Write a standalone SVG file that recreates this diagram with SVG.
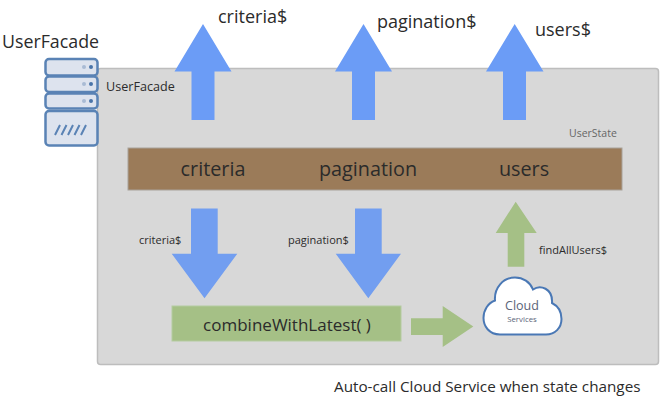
<svg xmlns="http://www.w3.org/2000/svg" width="662" height="400" viewBox="0 0 662 400">
<style>
text{font-family:"Open Sans","Noto Sans",sans-serif;fill:#2b2b2b}
.blue{fill:#6b9cf6}
.blue2{fill:#729ef0}
.green{fill:#a5c086}
.s{font-size:11px}
.m{font-size:19.800px}
.l{font-size:18px}
.srv{fill:#dde3ee;stroke:#5a83b5;stroke-width:2.500}
</style>
<rect width="662" height="400" fill="#fff"/>
<g id="user-state">
<rect x="97.500" y="68.500" width="561" height="296" rx="3" fill="#d8d8d8" stroke="#bdbdbd" stroke-width="1.500"/>
<text x="569" y="137" style="font-size:10.500px;fill:#666">UserState</text>
</g>
<g id="state-bar">
<rect x="128" y="148" width="494" height="42" fill="#9b7b59" stroke="#a8a29a"/>
<text x="213" y="176" class="m" text-anchor="middle">criteria</text>
<text x="368" y="176" class="m" text-anchor="middle">pagination</text>
<text x="524" y="176" class="m" text-anchor="middle">users</text>
</g>
<g id="connectors">
<path class="blue" d="M203 24L231.500 71.500H214.500V120H191.500V71.500H174.500Z"/>
<path class="blue" d="M363.500 24L392 71.500H375V120H352V71.500H335Z"/>
<path class="blue" d="M514.700 24L543.500 71.500H526V120H503V71.500H486Z"/>
<path class="blue2" d="M191 208.500H217.700V253.700H237.300L204.500 298.300L171.700 253.700H191Z"/>
<path class="blue2" d="M355 208.500H381.700V253.700H401L368.300 298.300L335.700 253.700H355Z"/>
<path class="green" d="M515.700 201.700L536.700 233H524.300V266.700H507.700V233H495.700Z"/>
<path class="green" d="M411 318.300H442.700V306L473.300 326.500L442.700 347V335H411Z"/>
</g>
<g id="arrow-labels">
<text x="218" y="22.500" class="l">criteria$</text>
<text x="377" y="28" class="l">pagination$</text>
<text x="535" y="36" class="l">users$</text>
<text x="139" y="244" class="s">criteria$</text>
<text x="288" y="244" class="s">pagination$</text>
<text x="539" y="254" class="s">findAllUsers$</text>
</g>
<g id="facade">
<text x="2" y="48" style="font-size:17.800px">UserFacade</text>
<text x="106" y="91" style="font-size:12.600px">UserFacade</text>
<rect class="srv" x="45.500" y="59" width="52" height="16.500" rx="3.500"/>
<rect class="srv" x="45.500" y="76.500" width="52" height="15.500" rx="3.500"/>
<rect class="srv" x="45.500" y="93.500" width="52" height="15" rx="3.500"/>
<rect class="srv" x="45.500" y="111" width="52" height="34.500" rx="3.500"/>
<g fill="#a9bbd4"><circle cx="84" cy="67" r="2"/><circle cx="84" cy="84" r="2"/><circle cx="84" cy="101" r="2"/></g>
<g fill="#4a74a8"><circle cx="91" cy="67" r="2"/><circle cx="91" cy="84" r="2"/><circle cx="91" cy="101" r="2"/></g>
<path d="M55 135L60 125M61.500 135L66.500 125M68 135L73 125M74.500 135L79.500 125M81 135L86 125" stroke="#5a83b5" stroke-width="2" fill="none"/>
</g>
<g id="combine">
<rect x="172" y="306" width="229" height="35" fill="#a5c086" stroke="#b4cba0"/>
<text x="287" y="331" style="font-size:17px" text-anchor="middle">combineWithLatest( )</text>
</g>
<g id="cloud">
<path d="M500 334.500C489 334.500 483.500 326 483.500 318C483.500 310 488 303 495 300.500C494 288 503 277.500 515 277.500C523 277.500 530 282 533 289.500C540 284.500 553 288 552 303C558 306 561.500 312 561.500 319C561.500 328 555 334.500 546 334.500Z" fill="#fff" stroke="#4a78b5" stroke-width="2"/>
<text x="522" y="309.500" style="font-size:12.500px;fill:#5a6478" text-anchor="middle">Cloud</text>
<text x="522" y="322" style="font-size:7.800px;fill:#5a6478" text-anchor="middle">Services</text>
</g>
<g id="caption">
<text x="334" y="392" style="font-size:15.250px">Auto-call Cloud Service when state changes</text>
</g>
</svg>
